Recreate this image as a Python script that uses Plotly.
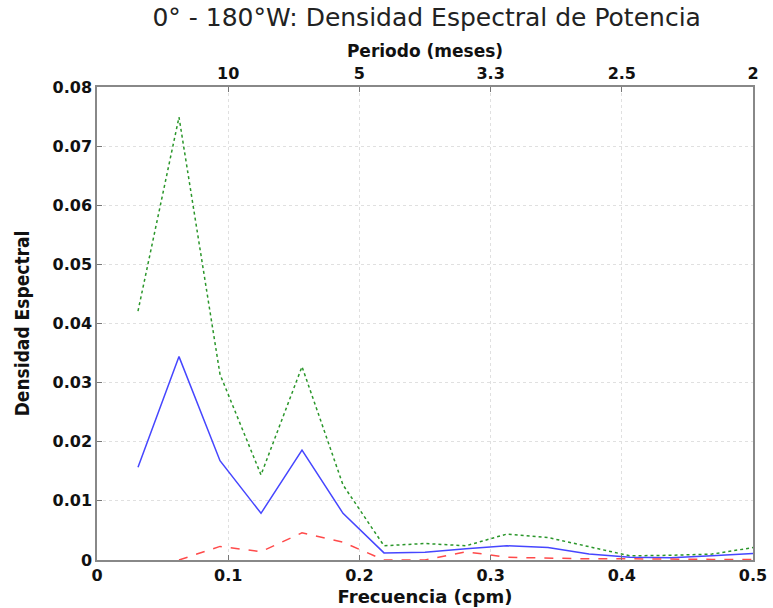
import plotly.graph_objects as go

# frecuencias k/32 cpm
frecuencia = [k / 32 for k in range(1, 17)]

# curvas
superior = [0.0421, 0.0749, 0.0314, 0.0144, 0.0327, 0.0127, 0.0024, 0.0028,
            0.0024, 0.0044, 0.0038, 0.0022, 0.0007, 0.0008, 0.0010, 0.0021]
espectro = [0.0157, 0.0344, 0.0168, 0.0079, 0.0186, 0.0079, 0.0012, 0.0013,
            0.0019, 0.0024, 0.0021, 0.0010, 0.00045, 0.0004, 0.0007, 0.0011]
inferior = [None, 0.0, 0.0023, 0.0014, 0.0046, 0.0030, 0.0, 0.0,
            0.0014, 0.00045, 0.0003, 0.0002, 0.0002, 0.0001, 0.0001, 0.0001]

ticks_freq = [0, 0.1, 0.2, 0.3, 0.4, 0.5]
texto_freq = ['0', '0.1', '0.2', '0.3', '0.4', '0.5']
ticks_periodo = [0.1, 0.2, 0.3, 0.4, 0.5]
texto_periodo = ['10', '5', '3.3', '2.5', '2']
ticks_y = [0, 0.01, 0.02, 0.03, 0.04, 0.05, 0.06, 0.07, 0.08]
texto_y = ['0', '0.01', '0.02', '0.03', '0.04', '0.05', '0.06', '0.07', '0.08']

fig = go.Figure()

fig.add_trace(go.Scatter(
    x=frecuencia, y=superior, mode='lines',
    line=dict(color='#2a962a', width=1.5, dash='dot'),
    showlegend=False,
))
fig.add_trace(go.Scatter(
    x=frecuencia, y=espectro, mode='lines',
    line=dict(color='#4646ff', width=1.5),
    showlegend=False,
))
fig.add_trace(go.Scatter(
    x=frecuencia, y=inferior, mode='lines',
    line=dict(color='#ff4a4a', width=1.5, dash='dash'),
    showlegend=False,
))
# traza invisible para el eje superior
fig.add_trace(go.Scatter(
    x=frecuencia, y=espectro, xaxis='x2', mode='lines',
    line=dict(width=0), opacity=0, hoverinfo='skip', showlegend=False,
))

fuente = 'DejaVu Sans, Verdana, sans-serif'
tick_font = dict(family=fuente, size=16, color='#111111')


def negrita(textos):
    return ['<b>' + t + '</b>' for t in textos]


fig.update_layout(
    width=773, height=608,
    margin=dict(l=97, r=20, t=87, b=48),
    paper_bgcolor='white',
    plot_bgcolor='white',
    title=dict(
        text='0° - 180°W: Densidad Espectral de Potencia',
        x=0.552, xanchor='center', yref='container', y=0.972, yanchor='middle',
        font=dict(family=fuente, size=25, color='#222222'),
    ),
    xaxis=dict(
        range=[0, 0.5], tickvals=ticks_freq, ticktext=negrita(texto_freq),
        ticks='inside', ticklen=5, tickcolor='#777777',
        showgrid=True, gridcolor='#e0e0e0', griddash='dot',
        showline=True, linecolor='#888888', linewidth=1.5,
        zeroline=False, tickfont=tick_font, automargin=False,
        ticklabeloverflow='allow',
        title=dict(text='<b>Frecuencia (cpm)</b>', standoff=6,
                   font=dict(family=fuente, size=18, color='#111111')),
    ),
    xaxis2=dict(
        range=[0, 0.5], overlaying='x', side='top',
        tickvals=ticks_periodo, ticktext=negrita(texto_periodo),
        ticks='inside', ticklen=5, tickcolor='#777777',
        showgrid=False, showline=True, linecolor='#888888', linewidth=1.5,
        zeroline=False, tickfont=tick_font, automargin=False,
        ticklabeloverflow='allow',
        title=dict(text='<b>Periodo (meses)</b>', standoff=2,
                   font=dict(family=fuente, size=17, color='#111111')),
    ),
    yaxis=dict(
        range=[0, 0.08], tickvals=ticks_y, ticktext=negrita(texto_y),
        ticks='inside', ticklen=5, tickcolor='#777777',
        showgrid=True, gridcolor='#e0e0e0', griddash='dot',
        showline=True, linecolor='#888888', linewidth=1.5, mirror=True,
        zeroline=False, tickfont=tick_font, automargin=False,
        title=dict(text='<b>Densidad Espectral</b>', standoff=18,
                   font=dict(family='DejaVu Sans Condensed, Liberation Sans Narrow, sans-serif',
                             size=19, color='#111111')),
    ),
)

# la figura ocupa toda la ventana, sin el margen del body
fig.write_html('out.html', config={'displayModeBar': False},
               post_script="document.body.style.margin='0';")
